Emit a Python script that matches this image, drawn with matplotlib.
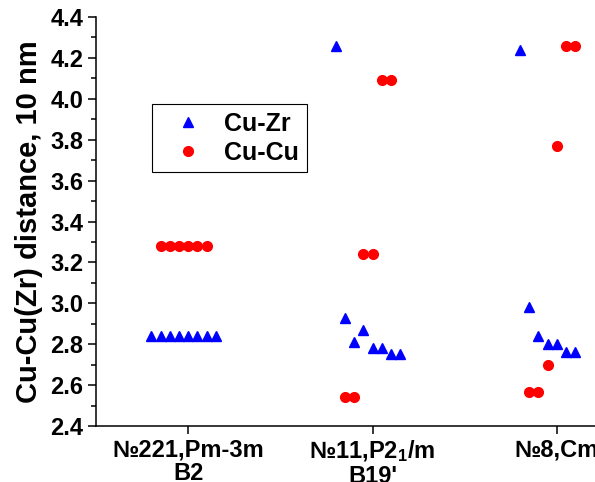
import matplotlib
matplotlib.use("Agg")
import matplotlib.pyplot as plt
from matplotlib.ticker import MultipleLocator

plt.rcParams["font.family"] = ["Liberation Sans", "DejaVu Sans"]
plt.rcParams["font.weight"] = "bold"
plt.rcParams["mathtext.default"] = "regular"

# categories (space groups)
categories = ["№221,Pm-3m\nB2", "№11,P2$_1$/m\nB19'", "№8,Cm"]

# Cu-Zr distances (x offset around each category, value)
cuzr_x = [0.80, 0.85, 0.90, 0.95, 1.00, 1.05, 1.10, 1.15,
          1.80, 1.85, 1.90, 1.95, 2.00, 2.05, 2.10, 2.15,
          2.80, 2.85, 2.90, 2.95, 3.00, 3.05, 3.10]
cuzr_y = [2.84, 2.84, 2.84, 2.84, 2.84, 2.84, 2.84, 2.84,
          4.26, 2.93, 2.81, 2.87, 2.78, 2.78, 2.75, 2.75,
          4.24, 2.98, 2.84, 2.80, 2.80, 2.76, 2.76]

# Cu-Cu distances
cucu_x = [0.85, 0.90, 0.95, 1.00, 1.05, 1.10,
          1.85, 1.90, 1.95, 2.00, 2.05, 2.10,
          2.85, 2.90, 2.95, 3.00, 3.05, 3.10]
cucu_y = [3.28, 3.28, 3.28, 3.28, 3.28, 3.28,
          2.54, 2.54, 3.24, 3.24, 4.09, 4.09,
          2.565, 2.565, 2.70, 3.77, 4.26, 4.26]

fig = plt.figure(figsize=(5.95, 4.82), dpi=100)
# axes runs past the right edge, like the cropped original
ax = fig.add_axes([96 / 595, 56 / 482, 553 / 595, 409 / 482])

ax.plot(cuzr_x, cuzr_y, linestyle="none", marker="^", markersize=7,
        color="#0000ff", label="Cu-Zr")
ax.plot(cucu_x, cucu_y, linestyle="none", marker="o", markersize=7,
        color="#ff0000", label="Cu-Cu")

ax.set_xlim(0.5, 3.5)
ax.set_ylim(2.4, 4.4)
ax.set_xticks([1, 2, 3])
ax.set_xticklabels(categories, fontsize=17, fontweight="bold", linespacing=1.05)
ax.yaxis.set_major_locator(MultipleLocator(0.2))
ax.yaxis.set_minor_locator(MultipleLocator(0.1))
ax.yaxis.set_major_formatter(plt.FormatStrFormatter("%.1f"))
for lab in ax.get_yticklabels():
    lab.set_fontsize(17)
    lab.set_fontweight("bold")

ax.tick_params(axis="both", which="major", direction="out", length=6, width=1.1, pad=3)
ax.tick_params(axis="y", which="minor", direction="out", length=3.5, width=1.1)
ax.spines["top"].set_visible(False)
ax.spines["right"].set_visible(False)
ax.spines["left"].set_linewidth(1.1)
ax.spines["bottom"].set_linewidth(1.1)

ax.set_ylabel("Cu-Cu(Zr) distance, 10 nm", fontsize=21, fontweight="bold", labelpad=5)

leg = ax.legend(loc="upper left", bbox_to_anchor=(0.101, 0.787), borderaxespad=0,
                fancybox=False, edgecolor="black", framealpha=1,
                prop={"size": 18, "weight": "bold"}, handlelength=2.3,
                handletextpad=0.3, borderpad=0.3, labelspacing=0.2)
leg.get_frame().set_linewidth(0.8)

fig.savefig("out.png", dpi=100)
